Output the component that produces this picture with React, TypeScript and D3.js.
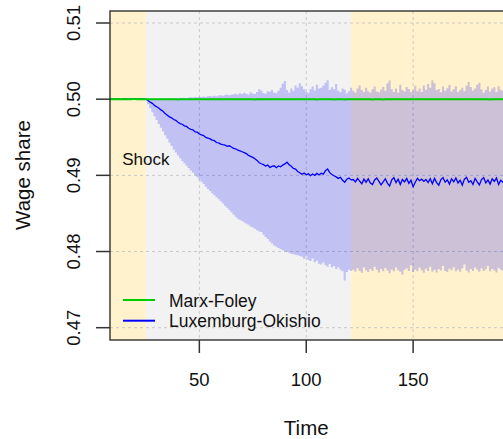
import React from "react";
import * as d3 from "d3";

// ---------- data ----------
const TIME_START = 8; // first time step drawn (index 0)
const shockTime = 25;
const regimeChangeTime = 121;
const xTicks = [50, 100, 150];
const yTicks = [0.47, 0.48, 0.49, 0.5, 0.51];
const yTickLabels = ["0.47", "0.48", "0.49", "0.50", "0.51"];
const seriesNames = ["Marx-Foley", "Luxemburg-Okishio"];
const seriesColors = ["#00cd00", "#0000ff"];

// Luxemburg-Okishio mean path, t = 8 .. 197
const luxMean = [
  0.50000, 0.50002, 0.49999, 0.50001, 0.50000, 0.49998, 0.50001, 0.50002, 0.50000, 0.49999,
  0.50001, 0.50000, 0.50002, 0.49999, 0.50000, 0.50001, 0.50000,
  0.50000, 0.49982, 0.49961, 0.49945, 0.49918, 0.49901, 0.49884, 0.49859, 0.49842, 0.49811,
  0.49790, 0.49768, 0.49755, 0.49733, 0.49722, 0.49698, 0.49680, 0.49671, 0.49650, 0.49642,
  0.49618, 0.49605, 0.49598, 0.49571, 0.49566, 0.49545, 0.49530, 0.49522, 0.49498, 0.49490,
  0.49478, 0.49462, 0.49455, 0.49431, 0.49425, 0.49410, 0.49402, 0.49396, 0.49380, 0.49388,
  0.49372, 0.49355, 0.49349, 0.49330, 0.49321, 0.49310, 0.49298, 0.49285, 0.49262, 0.49250,
  0.49236, 0.49218, 0.49196, 0.49165, 0.49152, 0.49140, 0.49122, 0.49135, 0.49105, 0.49118,
  0.49125, 0.49100, 0.49124, 0.49112, 0.49135, 0.49150, 0.49172, 0.49140, 0.49120, 0.49090,
  0.49082, 0.49050, 0.49035, 0.49015, 0.49030, 0.49008, 0.49020, 0.48995, 0.49018, 0.49000,
  0.49025, 0.49005, 0.49028, 0.49015, 0.49062, 0.49085, 0.49035, 0.49012, 0.48995, 0.48980,
  0.48960, 0.48975, 0.48935, 0.48910, 0.48950, 0.48965, 0.48940,
  0.48945, 0.48915, 0.48960, 0.48925, 0.48890, 0.48950, 0.48910, 0.48955, 0.48900, 0.48880,
  0.48940, 0.48965, 0.48920, 0.48875, 0.48915, 0.48955, 0.48895, 0.48860, 0.48940, 0.48970,
  0.48905, 0.48950, 0.48880, 0.48945, 0.48915, 0.48960, 0.48895, 0.48935, 0.48850, 0.48910,
  0.48960, 0.48930, 0.48950, 0.48920, 0.48945, 0.48905, 0.48955, 0.48890, 0.48960, 0.48905,
  0.48870, 0.48945, 0.48970, 0.48910, 0.48940, 0.48885, 0.48955, 0.48915, 0.48965, 0.48900,
  0.48935, 0.48870, 0.48950, 0.48975, 0.48910, 0.48930, 0.48880, 0.48960, 0.48915, 0.48875,
  0.48945, 0.48970, 0.48900, 0.48940, 0.48885, 0.48955, 0.48920, 0.48965, 0.48880, 0.48935,
  0.48910, 0.48960, 0.48930, 0.48890, 0.48945, 0.48915,
];

// upper edge of the Luxemburg-Okishio band, t = 8 .. 197
const luxUpper = [
  0.50004, 0.50006, 0.50003, 0.50005, 0.50004, 0.50002, 0.50005, 0.50006, 0.50004, 0.50003,
  0.50005, 0.50004, 0.50006, 0.50003, 0.50004, 0.50005, 0.50004,
  0.50000, 0.50002, 0.50003, 0.50004, 0.50002, 0.50005, 0.50006, 0.50004, 0.50008, 0.50006,
  0.50009, 0.50007, 0.50011, 0.50010, 0.50014, 0.50012, 0.50018, 0.50015, 0.50020, 0.50017,
  0.50022, 0.50025, 0.50021, 0.50028, 0.50026, 0.50032, 0.50030, 0.50035, 0.50030, 0.50038,
  0.50042, 0.50036, 0.50045, 0.50040, 0.50048, 0.50052, 0.50046, 0.50055, 0.50060, 0.50050,
  0.50058, 0.50065, 0.50072, 0.50060, 0.50078, 0.50068, 0.50085, 0.50070, 0.50062, 0.50090,
  0.50075, 0.50068, 0.50095, 0.50130, 0.50115, 0.50082, 0.50070, 0.50105, 0.50098, 0.50120,
  0.50088, 0.50078, 0.50110, 0.50150, 0.50205, 0.50240, 0.50120, 0.50085, 0.50140, 0.50110,
  0.50180, 0.50150, 0.50210, 0.50170, 0.50130, 0.50095, 0.50080, 0.50130, 0.50165, 0.50115,
  0.50190, 0.50140, 0.50150, 0.50180, 0.50215, 0.50250, 0.50120, 0.50155, 0.50130, 0.50200,
  0.50110, 0.50090, 0.50140, 0.50125, 0.50075, 0.50105, 0.50150,
  0.50110, 0.50085, 0.50140, 0.50180, 0.50120, 0.50095, 0.50150, 0.50105, 0.50085, 0.50130,
  0.50165, 0.50100, 0.50090, 0.50125, 0.50160, 0.50110, 0.50210, 0.50245, 0.50130, 0.50095,
  0.50140, 0.50085, 0.50190, 0.50120, 0.50100, 0.50160, 0.50135, 0.50090, 0.50115, 0.50175,
  0.50105, 0.50140, 0.50095, 0.50180, 0.50125, 0.50200, 0.50150, 0.50250, 0.50210, 0.50120,
  0.50135, 0.50090, 0.50165, 0.50110, 0.50145, 0.50185, 0.50100, 0.50130, 0.50170, 0.50095,
  0.50120, 0.50150, 0.50105, 0.50175, 0.50225, 0.50160, 0.50115, 0.50140, 0.50190, 0.50215,
  0.50130, 0.50085, 0.50120, 0.50165, 0.50100, 0.50140, 0.50155, 0.50095, 0.50170, 0.50125,
  0.50110, 0.50145, 0.50185, 0.50120, 0.50100, 0.50160,
];

// lower edge of the Luxemburg-Okishio band, t = 8 .. 197
const luxLower = [
  0.49996, 0.49995, 0.49997, 0.49996, 0.49995, 0.49997, 0.49996, 0.49995, 0.49996, 0.49997,
  0.49995, 0.49996, 0.49997, 0.49995, 0.49996, 0.49996, 0.49997,
  0.49990, 0.49935, 0.49880, 0.49830, 0.49775, 0.49725, 0.49675, 0.49625, 0.49575, 0.49528,
  0.49480, 0.49432, 0.49385, 0.49340, 0.49300, 0.49262, 0.49225, 0.49190, 0.49158, 0.49125,
  0.49095, 0.49065, 0.49035, 0.49005, 0.48975, 0.48945, 0.48915, 0.48885, 0.48850, 0.48820,
  0.48795, 0.48765, 0.48740, 0.48712, 0.48685, 0.48660, 0.48630, 0.48600, 0.48575, 0.48545,
  0.48515, 0.48485, 0.48455, 0.48430, 0.48415, 0.48400, 0.48382, 0.48365, 0.48350, 0.48330,
  0.48315, 0.48298, 0.48280, 0.48262, 0.48255, 0.48220, 0.48190, 0.48165, 0.48130, 0.48105,
  0.48080, 0.48062, 0.48045, 0.48030, 0.48018, 0.48005, 0.47995, 0.47985, 0.47972, 0.47965,
  0.47958, 0.47950, 0.47942, 0.47930, 0.47905, 0.47935, 0.47890, 0.47875, 0.47910, 0.47860,
  0.47880, 0.47840, 0.47830, 0.47855, 0.47820, 0.47800, 0.47835, 0.47790, 0.47810, 0.47770,
  0.47795, 0.47760, 0.47740, 0.47620, 0.47730, 0.47760, 0.47745,
  0.47760, 0.47735, 0.47780, 0.47745, 0.47720, 0.47790, 0.47755, 0.47730, 0.47770, 0.47745,
  0.47800, 0.47760, 0.47725, 0.47770, 0.47740, 0.47785, 0.47750, 0.47715, 0.47765, 0.47740,
  0.47790, 0.47755, 0.47735, 0.47700, 0.47760, 0.47780, 0.47745, 0.47820, 0.47730, 0.47765,
  0.47740, 0.47790, 0.47755, 0.47720, 0.47775, 0.47745, 0.47800, 0.47735, 0.47760, 0.47725,
  0.47770, 0.47750, 0.47810, 0.47745, 0.47730, 0.47775, 0.47755, 0.47795, 0.47740, 0.47765,
  0.47735, 0.47780, 0.47830, 0.47750, 0.47725, 0.47770, 0.47745, 0.47790, 0.47760, 0.47735,
  0.47780, 0.47745, 0.47765, 0.47810, 0.47740, 0.47770, 0.47750, 0.47725, 0.47785, 0.47760,
  0.47745, 0.47790, 0.47755, 0.47775, 0.47730, 0.47765,
];

// Marx-Foley mean path, t = 8 .. 197
const marxFoley = [
  0.50000, 0.50001, 0.49999, 0.50000, 0.50001, 0.49999, 0.50000, 0.50002, 0.50000, 0.49999,
  0.50000, 0.50001, 0.50002, 0.50000, 0.50001, 0.50000, 0.50000,
  0.50000, 0.50000, 0.50000, 0.50000, 0.50000, 0.50000, 0.50000, 0.50000, 0.50000, 0.50000,
  0.50000, 0.50000, 0.50000, 0.50000, 0.50000, 0.49997, 0.50000, 0.50000, 0.50000, 0.50000,
  0.50000, 0.50000, 0.50000, 0.50000, 0.50000, 0.50000, 0.50000, 0.50000, 0.50000, 0.50000,
  0.50000, 0.50000, 0.50000, 0.50000, 0.50000, 0.50000, 0.50000, 0.50000, 0.50000, 0.50000,
  0.50000, 0.50000, 0.50000, 0.50000, 0.50000, 0.50000, 0.50000, 0.50000, 0.50000, 0.50000,
  0.50000, 0.49997, 0.50000, 0.50000, 0.50000, 0.50000, 0.50000, 0.50000, 0.50000, 0.50000,
  0.50000, 0.50000, 0.50000, 0.50000, 0.50000, 0.50000, 0.50000, 0.50000, 0.50000, 0.50000,
  0.50000, 0.50000, 0.50000, 0.50000, 0.50000, 0.50000, 0.50000, 0.50000, 0.50000, 0.50000,
  0.49997, 0.50000, 0.50000, 0.50000, 0.50000, 0.50000, 0.50000, 0.50000, 0.49997, 0.50000,
  0.50000, 0.50000, 0.50000, 0.49997, 0.50000, 0.50000, 0.50000,
  0.50000, 0.50000, 0.50000, 0.50000, 0.50000, 0.50000, 0.50000, 0.50000, 0.50000, 0.49997,
  0.50000, 0.50000, 0.50000, 0.50000, 0.49997, 0.50000, 0.50000, 0.50000, 0.50000, 0.50000,
  0.50000, 0.50000, 0.50000, 0.50000, 0.50000, 0.50000, 0.50000, 0.50000, 0.50000, 0.50000,
  0.50000, 0.50000, 0.50000, 0.50000, 0.50000, 0.50000, 0.50000, 0.50000, 0.50000, 0.50000,
  0.50000, 0.50000, 0.50000, 0.50000, 0.50000, 0.50000, 0.50000, 0.50000, 0.50000, 0.50000,
  0.50000, 0.50000, 0.50000, 0.50000, 0.50000, 0.50000, 0.50000, 0.50000, 0.50000, 0.50000,
  0.50000, 0.50000, 0.50000, 0.50000, 0.49997, 0.50000, 0.50000, 0.50000, 0.50000, 0.50000,
  0.50000, 0.50000, 0.50000, 0.50000, 0.50000, 0.50000,
];

// ---------- layout ----------
const W = 503;
const H = 439;
const P = { left: 110, right: 520, top: 11, bottom: 340 };
const FONT = "'Liberation Sans', Arial, Helvetica, sans-serif";

export default function App() {
  const x = d3.scaleLinear().domain([8.2, 200]).range([P.left, P.right]);
  const y = d3.scaleLinear().domain([0.47, 0.51]).range([327.7, 23]);
  const time = d3.range(TIME_START, TIME_START + luxMean.length);

  const band = d3
    .area<number>()
    .x((t) => x(t))
    .y0((_, i) => y(luxLower[i]))
    .y1((_, i) => y(luxUpper[i]))
    .curve(d3.curveStep);
  const lineOf = (vals: number[]) =>
    d3
      .line<number>()
      .x((t) => x(t))
      .y((_, i) => y(vals[i]))(time) as string;

  const regions = [
    { from: x.domain()[0], to: shockTime, fill: "#fff2cc" },
    { from: shockTime, to: regimeChangeTime, fill: "#f2f2f2" },
    { from: regimeChangeTime, to: x.domain()[1], fill: "#fff2cc" },
  ];

  return (
    <svg
      width={W}
      height={H}
      style={{ position: "absolute", left: 0, top: 0, background: "#fff" }}
      fontFamily={FONT}
    >
      <defs>
        <clipPath id="plotClip">
          <rect x={P.left} y={P.top} width={P.right - P.left} height={P.bottom - P.top} />
        </clipPath>
      </defs>
      <g clipPath="url(#plotClip)">
        {regions.map((r, i) => (
          <rect
            key={i}
            x={x(r.from)}
            y={P.top}
            width={x(r.to) - x(r.from)}
            height={P.bottom - P.top}
            fill={r.fill}
          />
        ))}
        {xTicks.map((t) => (
          <line key={"gx" + t} x1={x(t)} x2={x(t)} y1={P.top} y2={P.bottom} stroke="#c8c8c8" strokeDasharray="3,3" />
        ))}
        {yTicks.map((v) => (
          <line key={"gy" + v} x1={P.left} x2={P.right} y1={y(v)} y2={y(v)} stroke="#c8c8c8" strokeDasharray="3,3" />
        ))}
        <path d={band(time) as string} fill="rgba(0,0,255,0.2)" stroke="none" />
        <path d={lineOf(luxMean)} fill="none" stroke={seriesColors[1]} strokeWidth={1.3} />
        <path d={lineOf(marxFoley)} fill="none" stroke={seriesColors[0]} strokeWidth={2} />
      </g>
      <rect
        x={P.left}
        y={P.top}
        width={P.right - P.left}
        height={P.bottom - P.top}
        fill="none"
        stroke="#222"
        strokeWidth={1.3}
      />
      {/* y axis */}
      {yTicks.map((v, i) => (
        <g key={"yt" + v}>
          <line x1={P.left - 14} x2={P.left} y1={y(v)} y2={y(v)} stroke="#333" strokeWidth={1.5} />
          <text
            transform={`translate(80,${y(v)}) rotate(-90)`}
            textAnchor="middle"
            fontSize={18.5}
            fill="#111"
          >
            {yTickLabels[i]}
          </text>
        </g>
      ))}
      {/* x axis */}
      {xTicks.map((t) => (
        <g key={"xt" + t}>
          <line x1={x(t)} x2={x(t)} y1={P.bottom} y2={P.bottom + 13} stroke="#333" strokeWidth={1.5} />
          <text x={x(t)} y={386} textAnchor="middle" fontSize={18.5} fill="#111">
            {t}
          </text>
        </g>
      ))}
      <text x={x(100)} y={435} textAnchor="middle" fontSize={20.5} fill="#111">
        Time
      </text>
      <text transform={`translate(30,175) rotate(-90)`} textAnchor="middle" fontSize={20.5} fill="#111">
        Wage share
      </text>
      {/* shock label */}
      <text x={x(shockTime)} y={165} textAnchor="middle" fontSize={17} fill="#111">
        Shock
      </text>
      {/* legend */}
      {seriesNames.map((name, i) => (
        <g key={name}>
          <line x1={123} x2={155} y1={300 + i * 20.7} y2={300 + i * 20.7} stroke={seriesColors[i]} strokeWidth={2} />
          <text x={169} y={306.5 + i * 20.7} fontSize={17.5} fill="#111">
            {name}
          </text>
        </g>
      ))}
    </svg>
  );
}
